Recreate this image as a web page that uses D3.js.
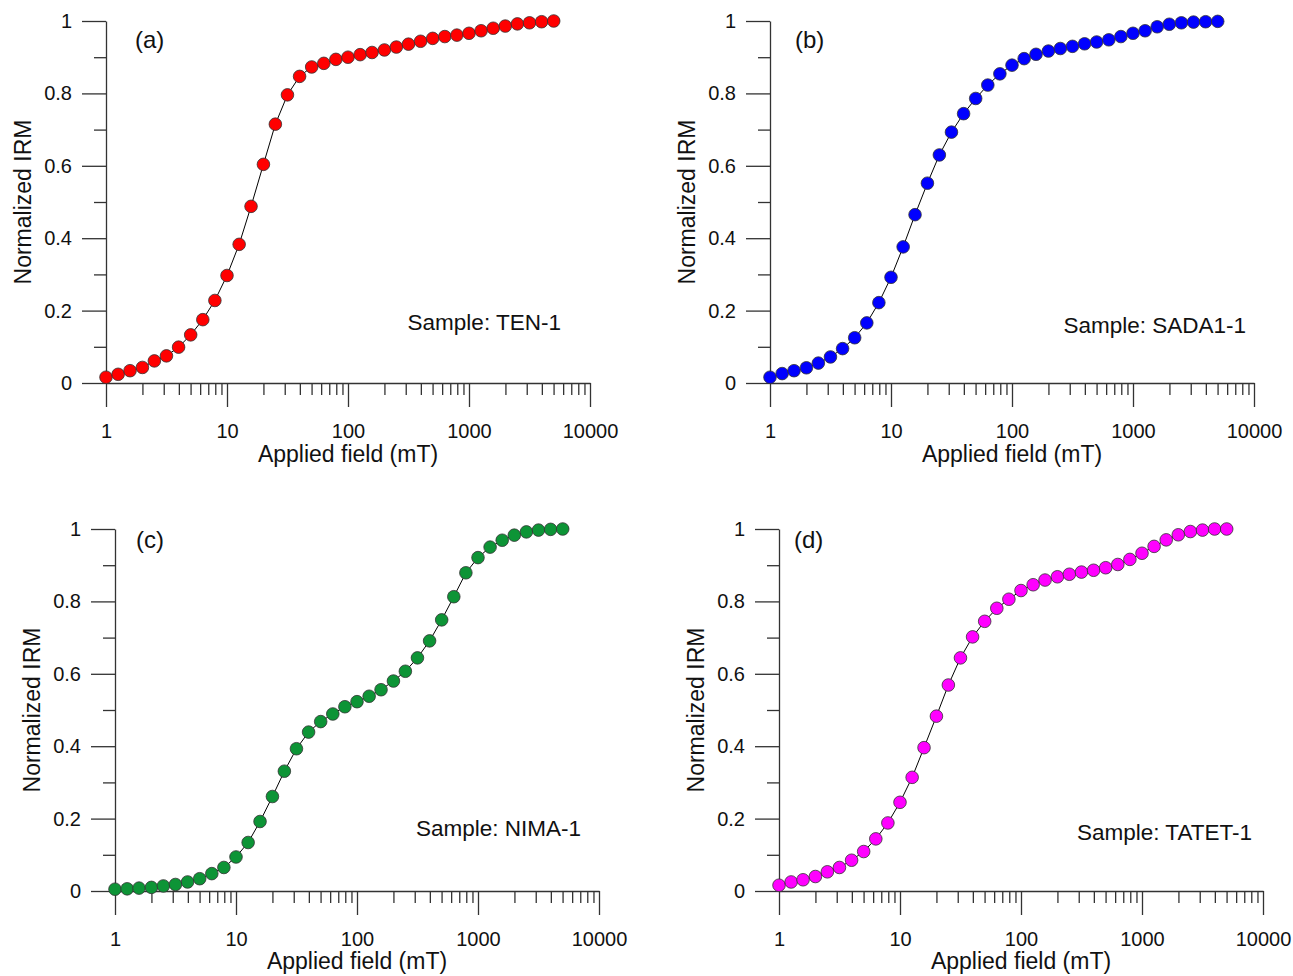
<!DOCTYPE html>
<html lang="en">
    <head>
        <meta charset="utf-8">
        <title>IRM acquisition curves</title>
        <script src="https://d3js.org/d3.v7.min.js"></script>
        <style type="text/css">
            html, body { margin: 0; background: #fff; overflow: hidden; }
            svg { display: block; }
            text { font-family: "Liberation Sans", Arial, sans-serif; fill: #111; }
        </style>
    </head>
    <body>
        <script>
            // data: applied field steps (mT) and normalized IRM per sample
            var fields = [1, 1.26, 1.58, 2, 2.51, 3.16, 3.98, 5.01, 6.31, 7.94,
                          10, 12.6, 15.8, 20, 25.1, 31.6, 39.8, 50.1, 63.1, 79.4,
                          100, 126, 158, 200, 251, 316, 398, 501, 631, 794,
                          1000, 1259, 1585, 1995, 2512, 3162, 3981, 5012];

            var irmTEN = [0.016, 0.024, 0.034, 0.043, 0.061, 0.075, 0.099, 0.133, 0.175, 0.228,
                          0.297, 0.383, 0.488, 0.604, 0.715, 0.796, 0.847, 0.873, 0.883, 0.894,
                          0.900, 0.907, 0.913, 0.920, 0.928, 0.936, 0.944, 0.952, 0.957, 0.961,
                          0.966, 0.973, 0.980, 0.986, 0.992, 0.995, 0.998, 1.0];

            var irmSADA = [0.016, 0.026, 0.034, 0.042, 0.055, 0.072, 0.095, 0.125, 0.166, 0.222,
                           0.292, 0.376, 0.465, 0.552, 0.630, 0.693, 0.744, 0.786, 0.823, 0.854,
                           0.878, 0.896, 0.908, 0.917, 0.924, 0.930, 0.937, 0.942, 0.948, 0.957,
                           0.966, 0.973, 0.984, 0.991, 0.995, 0.997, 0.998, 0.999];

            var irmNIMA = [0.005, 0.006, 0.008, 0.010, 0.014, 0.018, 0.025, 0.034, 0.048, 0.065,
                           0.094, 0.134, 0.192, 0.261, 0.331, 0.393, 0.439, 0.468, 0.489, 0.509,
                           0.523, 0.538, 0.556, 0.580, 0.607, 0.644, 0.691, 0.749, 0.813, 0.879,
                           0.921, 0.950, 0.969, 0.983, 0.992, 0.997, 0.999, 1.0];

            var irmTATET = [0.016, 0.025, 0.031, 0.040, 0.053, 0.065, 0.085, 0.109, 0.144, 0.188,
                            0.245, 0.314, 0.396, 0.483, 0.569, 0.644, 0.702, 0.745, 0.781, 0.806,
                            0.830, 0.846, 0.859, 0.868, 0.875, 0.881, 0.886, 0.893, 0.902, 0.916,
                            0.933, 0.952, 0.970, 0.984, 0.993, 0.997, 1.0, 1.0];

            var xMajor = [1, 10, 100, 1000, 10000];
            var yMajor = [0, 0.2, 0.4, 0.6, 0.8, 1];
            var yMinor = [0.1, 0.3, 0.5, 0.7, 0.9];

            // configuration code
            var panels = [
                { tag: "(a)", sample: "Sample: TEN-1",   values: irmTEN,   color: "#ff0000",
                  x0: 106, y0: 383, tagX: 29, tagY: 27, sX: 455, sY: -53, titleY: 79 },
                { tag: "(b)", sample: "Sample: SADA1-1", values: irmSADA,  color: "#0000ff",
                  x0: 770, y0: 383, tagX: 25, tagY: 27, sX: 476, sY: -50, titleY: 79 },
                { tag: "(c)", sample: "Sample: NIMA-1",  values: irmNIMA,  color: "#0d9436",
                  x0: 115, y0: 891, tagX: 21, tagY: 19, sX: 466, sY: -55, titleY: 78 },
                { tag: "(d)", sample: "Sample: TATET-1", values: irmTATET, color: "#ff00ff",
                  x0: 779, y0: 891, tagX: 15, tagY: 19, sX: 473, sY: -51, titleY: 78 }
            ];

            var innerWidth = 484;
            var innerHeight = 362;

            var svg = d3.select("body")
                        .append("svg")
                        .attr("width", 1293)
                        .attr("height", 976);

            // minor log ticks 2..9 in each decade
            var xMinor = [];
            xMajor.slice(0, -1).forEach(function (d) {
                for (var k = 2; k <= 9; k++) xMinor.push(d * k);
            });

            panels.forEach(function (p) {
                var g = svg.append("g")
                    .attr("transform", "translate(" + p.x0 + "," + (p.y0 - innerHeight) + ")");

                var xScale = d3.scaleLog().domain([1, 10000]).range([0, innerWidth]);
                var yScale = d3.scaleLinear().domain([0, 1]).range([innerHeight, 0]);

                // x axis: major + minor ticks
                var xAxis = g.append("g")
                    .attr("transform", "translate(0," + innerHeight + ")")
                    .call(d3.axisBottom(xScale).tickValues(xMajor).tickSize(24).tickSizeOuter(0)
                          .tickPadding(10).tickFormat(d3.format("d")));
                g.append("g")
                    .attr("transform", "translate(0," + innerHeight + ")")
                    .call(d3.axisBottom(xScale).tickValues(xMinor).tickSize(12).tickFormat(""))
                    .select(".domain").remove();

                // y axis
                g.append("g")
                    .call(d3.axisLeft(yScale).tickValues(yMajor).tickSize(24).tickSizeOuter(0)
                          .tickPadding(10).tickFormat(function (d) { return d === 0 || d === 1 ? d : d3.format(".1f")(d); }));
                g.append("g")
                    .call(d3.axisLeft(yScale).tickValues(yMinor).tickSize(12).tickFormat(""))
                    .select(".domain").remove();

                g.selectAll(".domain, .tick line")
                    .attr("stroke", "#333")
                    .attr("stroke-width", 1.3);
                g.selectAll(".tick text")
                    .attr("font-size", 20)
                    .attr("font-family", "Liberation Sans, Arial, sans-serif")
                    .attr("fill", "#111");
                xAxis.selectAll(".tick text").attr("dy", "1.05em");

                // connecting line
                var line = d3.line()
                    .x(function (d, i) { return xScale(fields[i]); })
                    .y(function (d) { return yScale(d); });

                g.append("path")
                    .datum(p.values)
                    .attr("fill", "none")
                    .attr("stroke", "#000")
                    .attr("stroke-width", 1)
                    .attr("d", line);

                g.selectAll("circle").data(p.values).enter().append("circle")
                    .attr("cx", function (d, i) { return xScale(fields[i]); })
                    .attr("cy", function (d) { return yScale(d); })
                    .attr("r", 6.3)
                    .attr("fill", p.color)
                    .attr("stroke", "#333")
                    .attr("stroke-width", 0.8);

                // labels
                g.append("text")
                    .attr("x", innerWidth / 2)
                    .attr("y", innerHeight + p.titleY)
                    .attr("text-anchor", "middle")
                    .attr("font-size", 23)
                    .text("Applied field (mT)");

                g.append("text")
                    .attr("transform", "translate(-75," + (innerHeight / 2) + ") rotate(-90)")
                    .attr("text-anchor", "middle")
                    .attr("font-size", 23)
                    .text("Normalized IRM");

                g.append("text")
                    .attr("x", p.tagX)
                    .attr("y", p.tagY)
                    .attr("font-size", 24)
                    .text(p.tag);

                g.append("text")
                    .attr("x", p.sX)
                    .attr("y", innerHeight + p.sY)
                    .attr("text-anchor", "end")
                    .attr("font-size", 22.5)
                    .text(p.sample);
            });
        </script>
    </body>
</html>
